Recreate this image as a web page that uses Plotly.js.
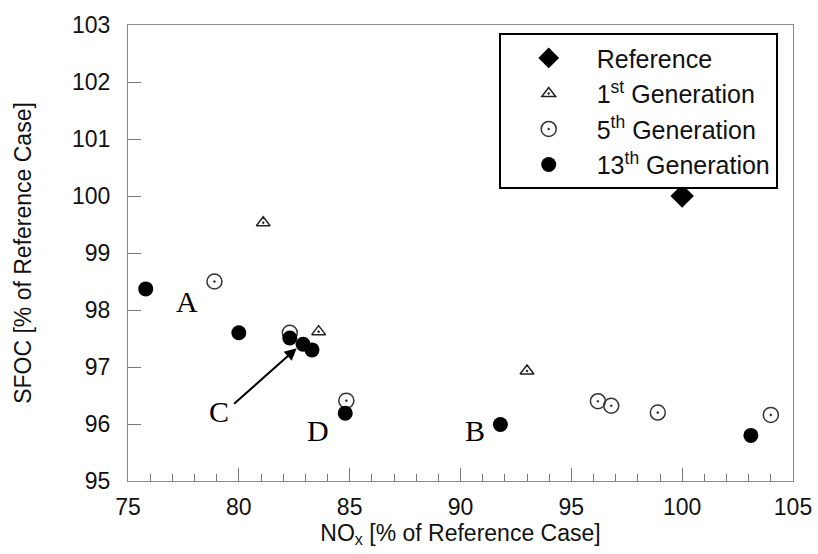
<!DOCTYPE html>
<html>
<head>
<meta charset="utf-8">
<script src="https://cdn.plot.ly/plotly-3.0.1.min.js"></script>
<style>html,body{margin:0;padding:0;background:#fff;}#chart{width:818px;height:554px;}</style>
</head>
<body>
<div id="chart"></div>
<script>
// Data
const refX = [100.0];
const refY = [100.0];
const gen1X = [81.1, 83.6, 93.0];
const gen1Y = [99.53, 97.62, 96.93];
const gen5X = [78.9, 82.3, 84.85, 96.2, 96.8, 98.9, 104.0];
const gen5Y = [98.50, 97.60, 96.41, 96.40, 96.32, 96.20, 96.16];
const gen13X = [75.8, 80.0, 82.3, 82.9, 83.3, 84.8, 91.8, 103.1];
const gen13Y = [98.37, 97.60, 97.51, 97.40, 97.30, 96.19, 95.99, 95.80];
const seriesNames = ["Reference", "1<sup>st</sup> Generation", "5<sup>th</sup> Generation", "13<sup>th</sup> Generation"];
const pointLabels = ["A", "B", "C", "D"];
const labelX = [77.65, 90.65, 79.10, 83.57];
const labelY = [98.15, 95.89, 96.22, 95.88];
const arrowHead = [82.61, 97.33];
const arrowTail = [79.72, 96.33];
const xTicks = [75, 80, 85, 90, 95, 100, 105];
const yTicks = [95, 96, 97, 98, 99, 100, 101, 102, 103];

const traces = [
  {x: refX, y: refY, name: seriesNames[0], legendgroup: 'g0', mode: 'markers', type: 'scatter',
   marker: {symbol: 'diamond', size: 18, color: '#000'}},
  {x: gen1X, y: gen1Y, name: seriesNames[1], legendgroup: 'g1', mode: 'markers', type: 'scatter',
   marker: {symbol: 'triangle-up-open-dot', size: 12, color: '#222', line: {width: 1.5, color: '#222'}}},
  {x: gen5X, y: gen5Y, name: seriesNames[2], legendgroup: 'g2', mode: 'markers', type: 'scatter',
   marker: {symbol: 'circle-open-dot', size: 15, color: '#333', line: {width: 1.5, color: '#333'}}},
  {x: gen13X, y: gen13Y, name: seriesNames[3], legendgroup: 'g3', mode: 'markers', type: 'scatter',
   marker: {symbol: 'circle', size: 15, color: '#000'}}
];

const annotations = pointLabels.map((t, i) => ({
  x: labelX[i], y: labelY[i], xref: 'x', yref: 'y', text: t, showarrow: false,
  font: {family: 'Liberation Serif, Times New Roman, serif', size: 30, color: '#000'}
}));
annotations.push({
  x: arrowHead[0], y: arrowHead[1], ax: arrowTail[0], ay: arrowTail[1],
  xref: 'x', yref: 'y', axref: 'x', ayref: 'y', text: '', showarrow: true,
  arrowhead: 2, arrowsize: 1.2, arrowwidth: 2, arrowcolor: '#000', standoff: 0
});

const axisFont = {family: 'Liberation Sans, Arial, sans-serif', size: 23, color: '#111'};

const layout = {
  width: 818, height: 554,
  margin: {l: 128, r: 25, t: 25, b: 73},
  paper_bgcolor: '#fff', plot_bgcolor: '#fff',
  showlegend: true,
  legend: {
    x: 0.977, y: 0.982, xanchor: 'right', yanchor: 'top',
    bgcolor: '#fff', bordercolor: '#000', borderwidth: 2,
    font: {family: 'Liberation Sans, Arial, sans-serif', size: 25, color: '#111'},
    traceorder: 'grouped', tracegroupgap: 0, itemwidth: 86
  },
  xaxis: {
    range: [75, 105], tickvals: xTicks, ticktext: xTicks.map(String),
    ticks: 'inside', ticklen: 13, tickwidth: 1, tickcolor: '#777',
    showline: true, linecolor: '#888', linewidth: 1, mirror: true,
    showgrid: false, zeroline: false,
    minor: {dtick: 1, ticks: 'inside', ticklen: 7, tickcolor: '#777', tickwidth: 1, showgrid: false},
    tickfont: axisFont, ticklabelstandoff: 5,
    title: {text: 'NO<sub>x</sub> [% of Reference Case]', font: axisFont, standoff: 3}
  },
  yaxis: {
    range: [95, 103], tickvals: yTicks, ticktext: yTicks.map(String),
    ticks: 'inside', ticklen: 13, tickwidth: 1, tickcolor: '#777',
    showline: true, linecolor: '#888', linewidth: 1, mirror: true,
    showgrid: false, zeroline: false,
    tickfont: axisFont, ticklabelstandoff: 12,
    title: {text: 'SFOC [% of Reference Case]', font: axisFont, standoff: 33}
  },
  annotations: annotations
};

Plotly.newPlot('chart', traces, layout, {displayModeBar: false, staticPlot: true});
</script>
</body>
</html>
